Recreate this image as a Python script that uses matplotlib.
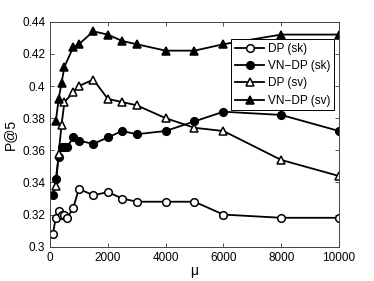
import numpy as np
import matplotlib.pyplot as plt

# mu values and P@5 per method
mu_sk  = [100, 200, 300, 400, 500, 600, 800, 1000, 1500, 2000, 2500, 3000, 4000, 5000, 6000, 8000, 10000]
dp_sk  = [0.308, 0.318, 0.322, 0.320, 0.320, 0.318, 0.324, 0.336, 0.332, 0.334, 0.330, 0.328, 0.328, 0.328, 0.320, 0.318, 0.318]
vn_sk  = [0.332, 0.342, 0.356, 0.362, 0.362, 0.362, 0.368, 0.366, 0.364, 0.368, 0.372, 0.370, 0.372, 0.378, 0.384, 0.382, 0.372]

mu_sv  = [200, 300, 400, 500, 800, 1000, 1500, 2000, 2500, 3000, 4000, 5000, 6000, 8000, 10000]
dp_sv  = [0.338, 0.358, 0.376, 0.390, 0.396, 0.400, 0.404, 0.392, 0.390, 0.388, 0.380, 0.374, 0.372, 0.354, 0.344]
vn_sv  = [0.378, 0.392, 0.402, 0.412, 0.424, 0.426, 0.434, 0.432, 0.428, 0.426, 0.422, 0.422, 0.426, 0.432, 0.432]

yticks = [0.30, 0.32, 0.34, 0.36, 0.38, 0.40, 0.42, 0.44]
ytick_labels = ['0.3', '0.32', '0.34', '0.36', '0.38', '0.4', '0.42', '0.44']
xticks = [0, 2000, 4000, 6000, 8000, 10000]

plt.rcParams['font.family'] = ['Liberation Sans', 'DejaVu Sans']

fig = plt.figure(figsize=(3.74, 2.81), dpi=100)
ax = fig.add_axes([0.1337, 0.122, 0.7727, 0.8007])

lw = 1.3
ms = 5.5
ax.plot(mu_sk, dp_sk, '-o', color='k', mfc='white', mec='k', lw=lw, ms=ms, mew=1.1, label='DP (sk)')
ax.plot(mu_sk, vn_sk, '-o', color='k', mfc='k', mec='k', lw=lw, ms=ms, mew=1.1, label='VN\u2212DP (sk)')
ax.plot(mu_sv, dp_sv, '-^', color='k', mfc='white', mec='k', lw=lw, ms=ms + 0.5, mew=1.1, label='DP (sv)')
ax.plot(mu_sv, vn_sv, '-^', color='k', mfc='k', mec='k', lw=lw, ms=ms + 0.5, mew=1.1, label='VN\u2212DP (sv)')

ax.set_xlim(0, 10000)
ax.set_ylim(0.30, 0.44)
ax.set_xticks(xticks)
ax.set_yticks(yticks)
ax.set_yticklabels(ytick_labels)
ax.tick_params(direction='in', top=True, right=True, labelsize=8.5, length=3, width=0.6, colors='#333333', labelcolor='k')
for s in ax.spines.values():
    s.set_linewidth(0.7)
    s.set_color('#444444')

ax.set_xlabel('\u03bc', fontsize=10, labelpad=0)
ax.set_ylabel('P@5', fontsize=10, labelpad=4)

leg = ax.legend(loc='upper right', bbox_to_anchor=(0.983, 0.922), fontsize=8.5, frameon=True,
                fancybox=False, edgecolor='k', framealpha=1, borderpad=0.3, labelspacing=0.45,
                handlelength=2.5, handletextpad=0.3, borderaxespad=0)
leg.get_frame().set_linewidth(0.7)

fig.savefig('out.png', dpi=100)
